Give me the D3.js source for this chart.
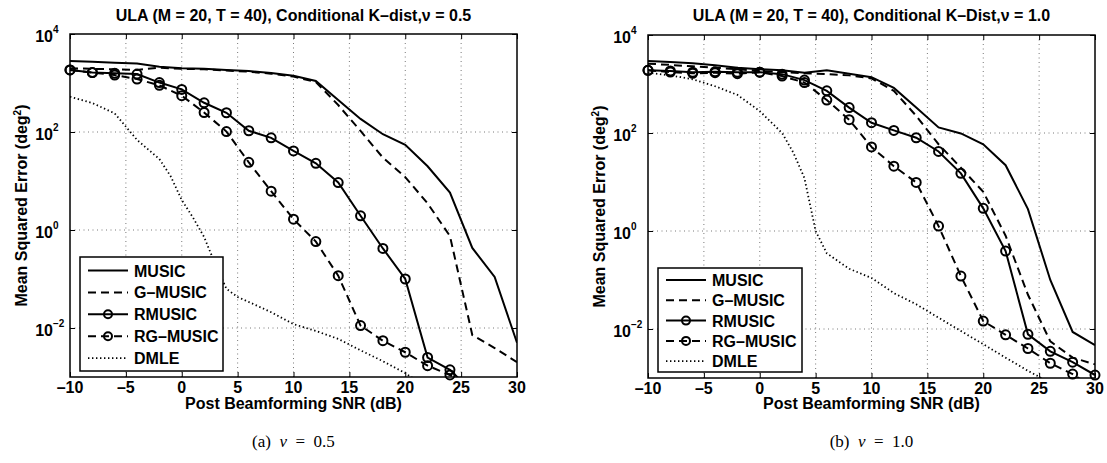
<!DOCTYPE html>
<html>
<head>
  <meta charset="utf-8">
  <title>ULA MSE vs SNR</title>
  <script src="https://d3js.org/d3.v7.min.js"></script>
  <style>
    body { margin: 0; background: #fff; }
    text { font-family: "Liberation Sans", Arial, Helvetica, sans-serif; font-weight: bold; fill: #000; }
  </style>
</head>
<body>
<script>
// SNR grid (dB) shared by the MUSIC type estimators
var snr = [-10, -8, -6, -4, -2, 0, 2, 4, 6, 8, 10, 12, 14, 16, 18, 20, 22, 24, 26, 28, 30];

// (a) nu = 0.5
var music05  = [2800, 2700, 2600, 2500, 2150, 2000, 1950, 1850, 1750, 1600, 1400, 1100, 450, 185, 90, 55, 20, 5.8, 0.43, 0.11, 0.005];
var gmusic05 = [2000, 1950, 1900, 1850, 2050, 1950, 1900, 1800, 1700, 1550, 1350, 1050, 355, 105, 30, 12, 3.5, 0.75, 0.0072, 0.0039, 0.002];
var rmusic05 = [1850, 1630, 1590, 1520, 1020, 740, 395, 247, 106, 76, 41, 23, 9.3, 1.95, 0.42, 0.1, 0.0025, 0.0014, 0.0005, null, null];
var rgmusic05 = [1850, 1630, 1450, 1200, 895, 550, 250, 102, 24, 6.2, 1.66, 0.58, 0.117, 0.0112, 0.0055, 0.0032, 0.0017, 0.0011, 0.0006, null, null];
var dmleSnr05 = [-10, -8, -6, -4, -2, -1, 0, 1, 2, 3, 4, 5, 6, 8, 10, 12, 14, 16, 18, 20, 22];
var dmle05    = [525, 390, 240, 69, 28, 12.6, 4.1, 1.8, 0.72, 0.2, 0.063, 0.043, 0.034, 0.021, 0.012, 0.0087, 0.006, 0.0035, 0.0021, 0.0012, 0.0006];

// (b) nu = 1.0
var music10  = [2950, 2800, 2650, 2400, 2150, 2000, 1900, 1700, 1900, 1620, 1380, 830, 330, 130, 98, 59, 22, 2.8, 0.1, 0.0087, 0.0047];
var gmusic10 = [2600, 2450, 2300, 2150, 2000, 1850, 1750, 1650, 1600, 1500, 1300, 725, 224, 59, 19.5, 6.3, 0.8, 0.05, 0.0056, 0.0026, 0.0019];
var rmusic10 = [1900, 1850, 1740, 1780, 1740, 1740, 1590, 1200, 725, 330, 162, 113, 80, 42, 15, 2.9, 0.39, 0.0078, 0.0035, 0.0021, 0.00115];
var rgmusic10 = [1900, 1750, 1650, 1700, 1620, 1740, 1450, 1070, 470, 187, 52, 21, 9.8, 1.26, 0.12, 0.0145, 0.0076, 0.004, 0.002, 0.0012, 0.0006];
var dmleSnr10 = [-10, -8, -6, -4, -2, 0, 2, 3, 4, 5, 6, 8, 10, 12, 14, 16, 18, 20, 22, 24, 26];
var dmle10    = [1700, 1500, 1250, 900, 600, 280, 100, 40, 12, 1, 0.35, 0.17, 0.11, 0.054, 0.032, 0.017, 0.0091, 0.0049, 0.0026, 0.0014, 0.0008];

var xTicks = [-10, -5, 0, 5, 10, 15, 20, 25, 30];
var yTicks = [1e-2, 1, 1e2, 1e4];
var yTickExp = ['\u22122', '0', '2', '4'];
var seriesNames = ['MUSIC', 'G\u2013MUSIC', 'RMUSIC', 'RG\u2013MUSIC', 'DMLE'];

var svgWidth = 1107, svgHeight = 463;

function createSvg(parent, height, width) {
  return d3.select(parent).append('svg').attr('height', height).attr('width', width);
}

var svg = createSvg('body', svgHeight, svgWidth);
svg.append('rect').attr('width', svgWidth).attr('height', svgHeight).attr('fill', '#fff');

// line styles, in legend order
var styles = [
  {dash: null, marker: false, width: 2},
  {dash: '8,5', marker: false, width: 2},
  {dash: null, marker: true, width: 2},
  {dash: '8,5', marker: true, width: 2},
  {dash: '1.4,2.6', marker: false, width: 1.8}
];

function fmtX(d) {
  return d < 0 ? '\u2013' + Math.abs(d) : String(d);
}

function drawPanel(p) {
  var g = svg.append('g');
  var x = d3.scaleLinear().domain([-10, 30]).range([p.left, p.right]);
  var y = d3.scaleLog().domain([1e-3, 1e4]).range([p.bottom, p.top]);

  g.append('clipPath').attr('id', p.id)
    .append('rect')
    .attr('x', p.left).attr('y', p.top)
    .attr('width', p.right - p.left).attr('height', p.bottom - p.top);

  // dotted grid
  g.selectAll('.gx').data(xTicks.slice(1, -1)).enter().append('line')
    .attr('x1', function(d) { return x(d); }).attr('x2', function(d) { return x(d); })
    .attr('y1', p.top).attr('y2', p.bottom)
    .attr('stroke', '#555').attr('stroke-width', 0.8).attr('stroke-dasharray', '1,3.5');
  g.selectAll('.gy').data(yTicks.slice(0, -1)).enter().append('line')
    .attr('y1', function(d) { return y(d); }).attr('y2', function(d) { return y(d); })
    .attr('x1', p.left).attr('x2', p.right)
    .attr('stroke', '#555').attr('stroke-width', 0.8).attr('stroke-dasharray', '1,3.5');

  // inward tick marks on all four sides
  var axes = [
    d3.axisBottom(x).tickValues(xTicks).tickSize(-5).tickFormat(''),
    d3.axisTop(x).tickValues(xTicks).tickSize(-5).tickFormat(''),
    d3.axisLeft(y).tickValues(yTicks).tickSize(-5).tickFormat(''),
    d3.axisRight(y).tickValues(yTicks).tickSize(-5).tickFormat('')
  ];
  var shifts = ['translate(0,' + p.bottom + ')', 'translate(0,' + p.top + ')',
                'translate(' + p.left + ',0)', 'translate(' + p.right + ',0)'];
  axes.forEach(function(a, i) {
    var ag = g.append('g').attr('transform', shifts[i]).call(a);
    ag.select('.domain').remove();
    ag.selectAll('line').attr('stroke', '#000').attr('stroke-width', 1);
  });

  // series
  var plot = g.append('g').attr('clip-path', 'url(#' + p.id + ')');
  var line = d3.line()
    .defined(function(d) { return d[1] != null; })
    .x(function(d) { return x(d[0]); })
    .y(function(d) { return y(Math.max(d[1], 1e-5)); });

  p.series.forEach(function(s, i) {
    var pts = s.xs.map(function(v, j) { return [v, s.ys[j]]; });
    var st = styles[i];
    plot.append('path')
      .attr('d', line(pts))
      .attr('fill', 'none')
      .attr('stroke', '#000')
      .attr('stroke-width', st.width)
      .attr('stroke-dasharray', st.dash);
    if (st.marker) {
      g.selectAll('.m' + i).data(pts.filter(function(d) { return d[1] != null && d[1] >= 1e-3; }))
        .enter().append('circle')
        .attr('cx', function(d) { return x(d[0]); })
        .attr('cy', function(d) { return y(d[1]); })
        .attr('r', 4.5)
        .attr('fill', 'none')
        .attr('stroke', '#000')
        .attr('stroke-width', 2);
    }
  });

  // box
  g.append('rect')
    .attr('x', p.left).attr('y', p.top)
    .attr('width', p.right - p.left).attr('height', p.bottom - p.top)
    .attr('fill', 'none').attr('stroke', '#000').attr('stroke-width', 1.5);

  // tick labels
  g.selectAll('.xl').data(xTicks).enter().append('text')
    .attr('x', function(d) { return x(d); })
    .attr('y', p.bottom + 16)
    .attr('text-anchor', 'middle')
    .style('font-size', '16px')
    .text(fmtX);
  var yl = g.selectAll('.yl').data(yTicks).enter().append('g');
  yl.append('text')
    .attr('x', p.left - 17)
    .attr('y', function(d) { return y(d) + 7.5; })
    .attr('text-anchor', 'end')
    .style('font-size', '16px')
    .text('10');
  yl.append('text')
    .attr('x', p.left - 17)
    .attr('y', function(d) { return y(d) - 1; })
    .style('font-size', '10px')
    .text(function(d, i) { return yTickExp[i]; });

  // titles and labels
  var cx = (p.left + p.right) / 2;
  g.append('text').attr('x', cx).attr('y', 21).attr('text-anchor', 'middle')
    .style('font-size', '16px').text(p.title);
  g.append('text').attr('x', cx).attr('y', 409).attr('text-anchor', 'middle')
    .style('font-size', '16px').text('Post Beamforming SNR (dB)');
  var yt = g.append('text')
    .attr('transform', 'translate(' + (p.left - 43) + ',' + ((p.top + p.bottom) / 2) + ') rotate(-90)')
    .attr('text-anchor', 'middle')
    .style('font-size', '16px');
  yt.append('tspan').text('Mean Squared Error (deg');
  yt.append('tspan').attr('dy', -6).style('font-size', '10px').text('2');
  yt.append('tspan').attr('dy', 6).text(')');

  var cap = g.append('text').attr('x', cx).attr('y', 447).attr('text-anchor', 'middle')
    .style('font-family', '"Liberation Serif", "Times New Roman", serif')
    .style('font-weight', 'normal')
    .style('font-size', '17px');
  cap.append('tspan').text(p.caption[0] + '\u2002');
  cap.append('tspan').style('font-style', 'italic').text('\u03bd');
  cap.append('tspan').text('\u2002=\u2002' + p.caption[1]);

  // legend
  var lg = g.append('g');
  lg.append('rect')
    .attr('x', p.legX).attr('y', p.legY)
    .attr('width', p.legW).attr('height', p.legH)
    .attr('fill', '#fff').attr('stroke', '#000').attr('stroke-width', 1.5);
  seriesNames.forEach(function(name, i) {
    var ry = p.legY + p.legFirst + i * p.legStep;
    var st = styles[i];
    lg.append('line')
      .attr('x1', p.legX + 8).attr('x2', p.legX + 48)
      .attr('y1', ry).attr('y2', ry)
      .attr('stroke', '#000').attr('stroke-width', st.width)
      .attr('stroke-dasharray', st.dash);
    if (st.marker) {
      lg.append('circle').attr('cx', p.legX + 28).attr('cy', ry).attr('r', 4)
        .attr('fill', 'none').attr('stroke', '#000').attr('stroke-width', 2);
    }
    lg.append('text').attr('x', p.legX + 54).attr('y', ry + 6)
      .style('font-size', '16px').text(name);
  });
}

drawPanel({
  id: 'clipA', left: 70, right: 517, top: 34, bottom: 377,
  title: 'ULA (M = 20, T = 40), Conditional K\u2013dist,\u03bd = 0.5',
  caption: ['(a)', '0.5'],
  legX: 80, legY: 257, legW: 143, legH: 114, legFirst: 13.5, legStep: 21.9,
  series: [
    {xs: snr, ys: music05}, {xs: snr, ys: gmusic05}, {xs: snr, ys: rmusic05},
    {xs: snr, ys: rgmusic05}, {xs: dmleSnr05, ys: dmle05}
  ]
});

drawPanel({
  id: 'clipB', left: 648, right: 1095, top: 35, bottom: 378,
  title: 'ULA (M = 20, T = 40), Conditional K\u2013Dist,\u03bd = 1.0',
  caption: ['(b)', '1.0'],
  legX: 658, legY: 268, legW: 144, legH: 104, legFirst: 12, legStep: 20.3,
  series: [
    {xs: snr, ys: music10}, {xs: snr, ys: gmusic10}, {xs: snr, ys: rmusic10},
    {xs: snr, ys: rgmusic10}, {xs: dmleSnr10, ys: dmle10}
  ]
});
</script>
</body>
</html>
